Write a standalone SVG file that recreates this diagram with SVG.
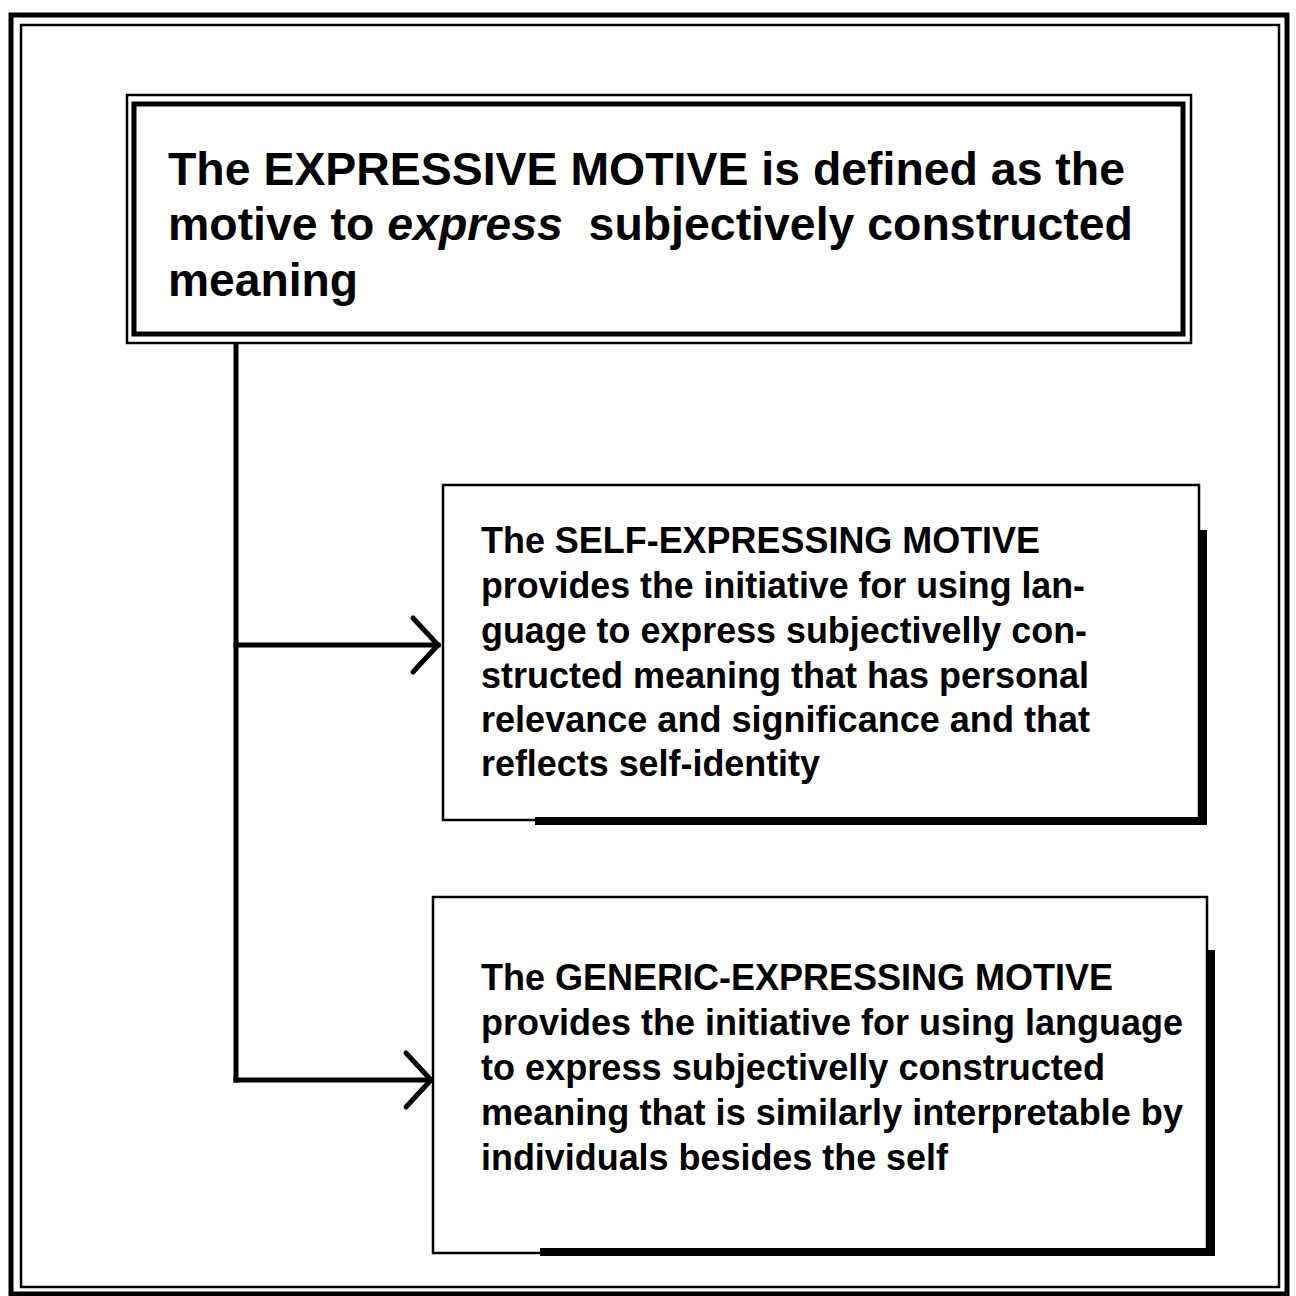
<svg xmlns="http://www.w3.org/2000/svg" width="1296" height="1296" viewBox="0 0 1296 1296">
  <defs>
    <style>
      .frame-thick { fill: none; stroke: #000; stroke-width: 5; }
      .frame-thin { fill: none; stroke: #000; stroke-width: 2.5; }
      .box { fill: #fff; stroke: #000; stroke-width: 2.5; }
      .shadow { fill: none; stroke: #000; stroke-width: 8; stroke-linejoin: miter; }
      .wire { fill: none; stroke: #000; stroke-width: 5; stroke-linecap: square; }
      .head { fill: none; stroke: #000; stroke-width: 5; stroke-linecap: round; stroke-linejoin: miter; }
      .t-main { font-family: "Liberation Sans", Arial, Helvetica, sans-serif; font-weight: bold; font-size: 46px; fill: #000; white-space: pre; }
      .t-sub { font-family: "Liberation Sans", Arial, Helvetica, sans-serif; font-weight: bold; font-size: 36px; fill: #000; }
      .it { font-style: italic; }
    </style>
    <marker id="chevron" viewBox="-32 -32 38 64" refX="0" refY="0" markerWidth="38" markerHeight="64" markerUnits="userSpaceOnUse" orient="auto">
      <path class="head" d="M -25 -27 L 0 0 L -25 27"/>
    </marker>
  </defs>

  <rect width="1296" height="1296" fill="#fff"/>

  <!-- page border: heavy outer rule with thin inner rule -->
  <g id="page-frame">
    <rect class="frame-thick" x="11" y="15" width="1276" height="1279"/>
    <rect class="frame-thin" x="21" y="25" width="1258" height="1262"/>
  </g>

  <!-- connectors from the definition box to the two sub-motives -->
  <g id="connectors">
    <path class="wire" d="M 236 337 L 236 1080"/>
    <path class="wire" d="M 236 645 L 438 645" marker-end="url(#chevron)"/>
    <path class="wire" d="M 236 1080 L 431 1080" marker-end="url(#chevron)"/>
  </g>

  <!-- definition box: thin outer rule around a heavy inner rule -->
  <g id="expressive-motive">
    <rect class="box" x="127" y="95" width="1064" height="248"/>
    <rect fill="none" stroke="#000" stroke-width="5" x="134" y="104" width="1049" height="230"/>
    <text class="t-main" x="168" y="185" textLength="957" lengthAdjust="spacingAndGlyphs">The EXPRESSIVE MOTIVE is defined as the</text>
    <text class="t-main" x="168" y="240" textLength="965" lengthAdjust="spacingAndGlyphs" xml:space="preserve">motive to <tspan class="it">express</tspan>  subjectively constructed</text>
    <text class="t-main" x="168" y="296" textLength="190" lengthAdjust="spacingAndGlyphs">meaning</text>
  </g>

  <!-- self-expressing motive -->
  <g id="self-expressing-motive">
    <rect class="box" x="443" y="485" width="756" height="335"/>
    <path class="shadow" d="M 1203 530 L 1203 821 L 535 821"/>
    <text class="t-sub" x="481" y="553" textLength="559" lengthAdjust="spacingAndGlyphs">The SELF-EXPRESSING MOTIVE</text>
    <text class="t-sub" x="481" y="598" textLength="604" lengthAdjust="spacingAndGlyphs">provides the initiative for using lan-</text>
    <text class="t-sub" x="481" y="643" textLength="606" lengthAdjust="spacingAndGlyphs">guage to express subjectivelly con-</text>
    <text class="t-sub" x="481" y="688" textLength="608" lengthAdjust="spacingAndGlyphs">structed meaning that has personal</text>
    <text class="t-sub" x="481" y="732" textLength="609" lengthAdjust="spacingAndGlyphs">relevance and significance and that</text>
    <text class="t-sub" x="481" y="776" textLength="339" lengthAdjust="spacingAndGlyphs">reflects self-identity</text>
  </g>

  <!-- generic-expressing motive -->
  <g id="generic-expressing-motive">
    <rect class="box" x="433" y="897" width="774" height="356"/>
    <path class="shadow" d="M 1211 950 L 1211 1252 L 540 1252"/>
    <text class="t-sub" x="481" y="990" textLength="632" lengthAdjust="spacingAndGlyphs">The GENERIC-EXPRESSING MOTIVE</text>
    <text class="t-sub" x="481" y="1035" textLength="702" lengthAdjust="spacingAndGlyphs">provides the initiative for using language</text>
    <text class="t-sub" x="481" y="1080" textLength="624" lengthAdjust="spacingAndGlyphs">to express subjectivelly constructed</text>
    <text class="t-sub" x="481" y="1125" textLength="702" lengthAdjust="spacingAndGlyphs">meaning that is similarly interpretable by</text>
    <text class="t-sub" x="481" y="1170" textLength="467" lengthAdjust="spacingAndGlyphs">individuals besides the self</text>
  </g>
</svg>
